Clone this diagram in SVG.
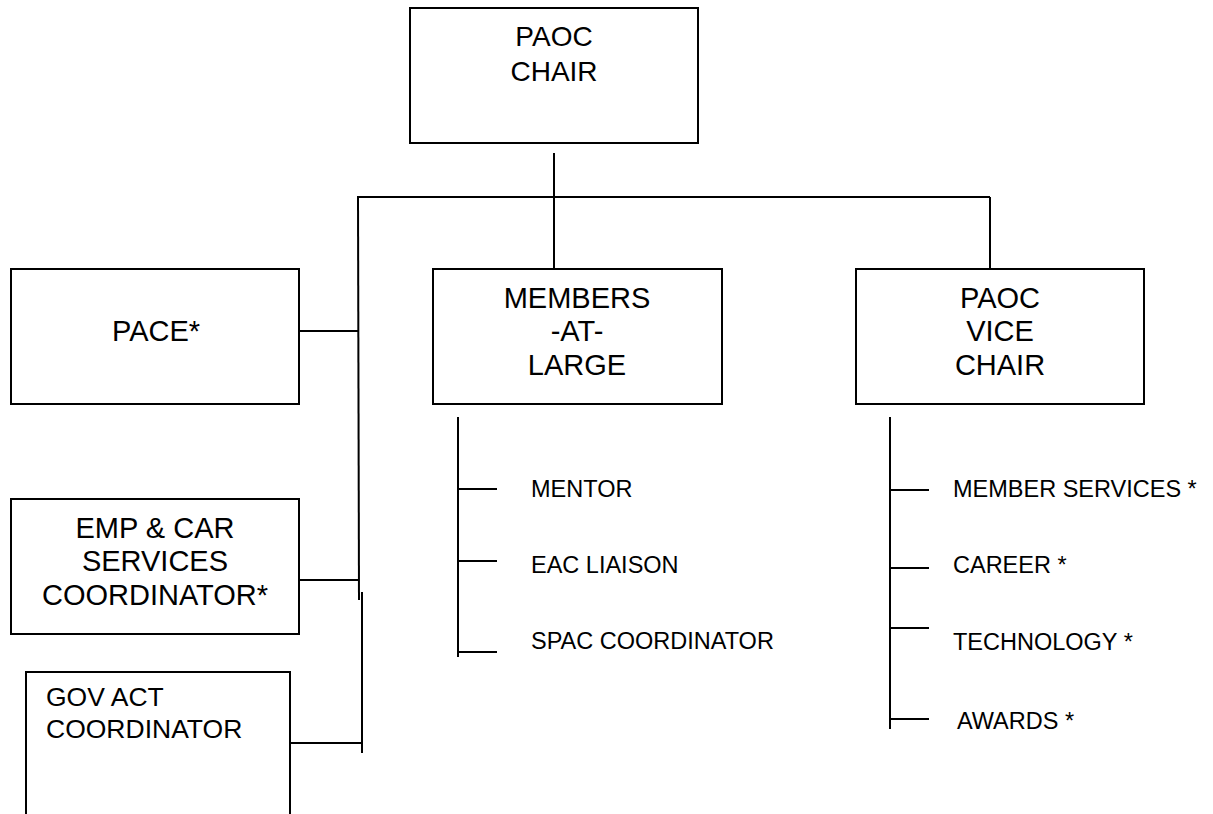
<svg xmlns="http://www.w3.org/2000/svg" width="1213" height="814" viewBox="0 0 1213 814">
<style>
.box{fill:#fff;stroke:#000;stroke-width:2}
.ln{stroke:#000;stroke-width:2;fill:none}
.t{font-family:"Liberation Sans",Arial,sans-serif;fill:#000}
.c{text-anchor:middle;font-size:29px}
.s{font-size:23.5px}
</style>
<rect width="1213" height="814" fill="#fff"/>
<g id="connectors">
<line class="ln" x1="554" y1="153" x2="554" y2="270"/>
<line class="ln" x1="357" y1="197" x2="990" y2="197"/>
<line class="ln" x1="990" y1="197" x2="990" y2="270"/>
<line class="ln" x1="358" y1="197" x2="359" y2="600"/>
<line class="ln" x1="362" y1="592" x2="362" y2="753"/>
<line class="ln" x1="299" y1="331" x2="358" y2="331"/>
<line class="ln" x1="299" y1="580" x2="358" y2="580"/>
<line class="ln" x1="290" y1="743" x2="362" y2="743"/>
<line class="ln" x1="458" y1="417" x2="458" y2="657"/>
<line class="ln" x1="458" y1="489" x2="497" y2="489"/>
<line class="ln" x1="458" y1="561" x2="497" y2="561"/>
<line class="ln" x1="458" y1="652" x2="497" y2="652"/>
<line class="ln" x1="890" y1="417" x2="890" y2="729"/>
<line class="ln" x1="890" y1="490" x2="929" y2="490"/>
<line class="ln" x1="890" y1="568" x2="929" y2="568"/>
<line class="ln" x1="890" y1="628" x2="929" y2="628"/>
<line class="ln" x1="890" y1="719" x2="929" y2="719"/>
</g>
<g id="paoc-chair">
<rect class="box" x="410" y="8" width="288" height="135"/>
<text class="t c" x="554" y="46" style="font-size:28px">PAOC</text>
<text class="t c" x="554" y="81" style="font-size:28px">CHAIR</text>
</g>
<g id="pace">
<rect class="box" x="11" y="269" width="288" height="135"/>
<text class="t c" x="156" y="341">PACE*</text>
</g>
<g id="emp-car">
<rect class="box" x="11" y="499" width="288" height="135"/>
<text class="t c" x="155" y="538">EMP &amp; CAR</text>
<text class="t c" x="155" y="571">SERVICES</text>
<text class="t c" x="155" y="605">COORDINATOR*</text>
</g>
<g id="gov-act">
<rect class="box" x="26" y="672" width="264" height="160"/>
<text class="t" x="46" y="706" style="font-size:26.5px">GOV ACT</text>
<text class="t" x="46" y="738" style="font-size:26.5px">COORDINATOR</text>
</g>
<g id="members-at-large">
<rect class="box" x="433" y="269" width="289" height="135"/>
<text class="t c" x="577" y="308">MEMBERS</text>
<text class="t c" x="577" y="341">-AT-</text>
<text class="t c" x="577" y="375">LARGE</text>
</g>
<g id="vice-chair">
<rect class="box" x="856" y="269" width="288" height="135"/>
<text class="t c" x="1000" y="308">PAOC</text>
<text class="t c" x="1000" y="341">VICE</text>
<text class="t c" x="1000" y="375">CHAIR</text>
</g>
<g id="mentor"><text class="t s" x="531" y="497">MENTOR</text></g>
<g id="eac-liaison"><text class="t s" x="531" y="573">EAC LIAISON</text></g>
<g id="spac"><text class="t s" x="531" y="649">SPAC COORDINATOR</text></g>
<g id="member-services"><text class="t s" x="953" y="497">MEMBER SERVICES *</text></g>
<g id="career"><text class="t s" x="953" y="573">CAREER *</text></g>
<g id="technology"><text class="t s" x="953" y="650">TECHNOLOGY *</text></g>
<g id="awards"><text class="t s" x="957" y="729">AWARDS *</text></g>
</svg>
